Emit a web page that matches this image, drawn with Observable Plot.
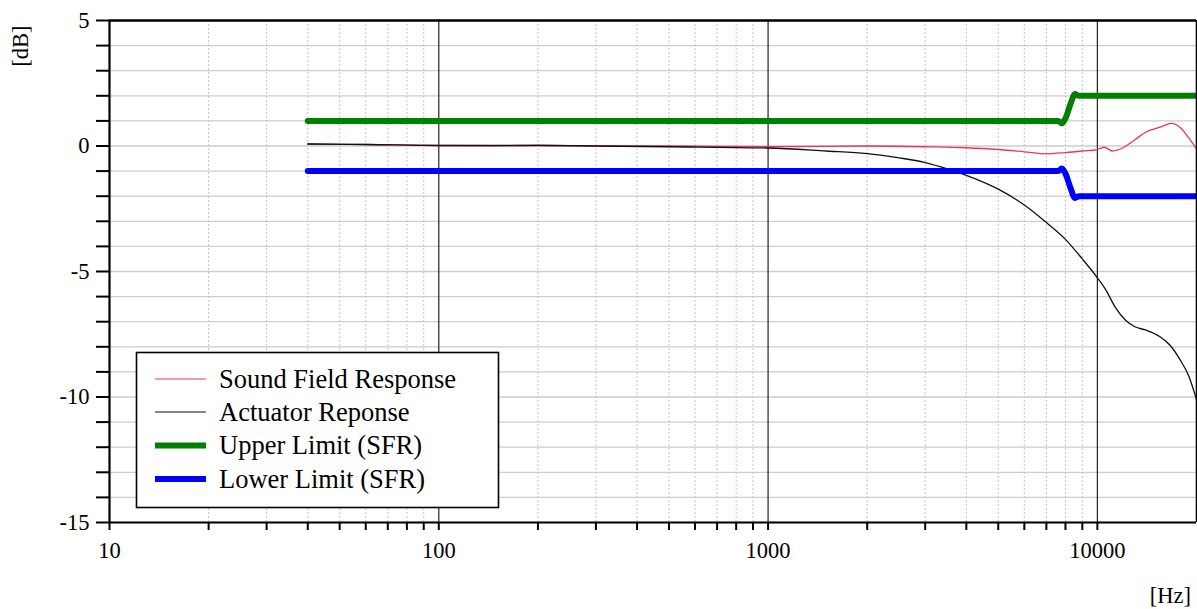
<!DOCTYPE html>
<html>
<head>
<meta charset="utf-8">
<script src="https://cdn.jsdelivr.net/npm/d3@7"></script>
<script src="https://cdn.jsdelivr.net/npm/@observablehq/plot@0.6"></script>
<style>
  html, body { margin: 0; padding: 0; background: #fff; }
  #chart { width: 1197px; height: 609px; }
</style>
</head>
<body>
<div id="chart"></div>
<script>
// ---- Data ----
const sfrFreq = [40, 60, 100, 150, 200, 300, 500, 1000, 2000, 3000, 4000, 5000, 6000, 7000, 8000, 9000, 10000, 10500, 11100, 12000, 13000, 14000, 15500, 16800, 17800, 19000, 20000];
const sfrDb   = [0.08, 0.06, 0.02, 0.01, 0.03, 0.0, 0.0, -0.03, 0.0, -0.03, -0.07, -0.14, -0.23, -0.31, -0.26, -0.2, -0.14, -0.05, -0.2, -0.06, 0.25, 0.55, 0.75, 0.9, 0.75, 0.3, -0.12];

const actFreq = [40, 60, 100, 200, 300, 500, 1000, 1500, 2000, 2500, 3000, 3500, 4300, 5000, 6000, 7000, 8000, 9000, 10000, 10600, 11300, 12200, 13000, 14000, 15500, 16600, 17800, 19000, 20000];
const actDb   = [0.08, 0.06, 0.02, 0.02, 0.0, -0.03, -0.08, -0.2, -0.3, -0.47, -0.66, -0.91, -1.33, -1.72, -2.35, -3.05, -3.72, -4.5, -5.25, -5.72, -6.4, -6.95, -7.2, -7.33, -7.6, -7.93, -8.5, -9.2, -10.1];

const upperFreq = [40, 7600, 7800, 8000, 8300, 8550, 8800, 20000];
const upperDb   = [1, 1, 0.9, 1.1, 1.7, 2.07, 2.0, 2.0];
const lowerFreq = [40, 7600, 7800, 8000, 8300, 8550, 8800, 20000];
const lowerDb   = [-1, -1, -0.9, -1.1, -1.7, -2.07, -2.0, -2.0];

const seriesNames  = ["Sound Field Response", "Actuator Reponse", "Upper Limit (SFR)", "Lower Limit (SFR)"];
const seriesColors = ["#e8375a", "#111111", "#008000", "#0000ff"];

const yTicks = d3.range(-15, 6, 1);
const xTicks = [10,20,30,40,50,60,70,80,90,100,200,300,400,500,600,700,800,900,1000,2000,3000,4000,5000,6000,7000,8000,9000,10000];
const xLabelTicks = [10, 100, 1000, 10000];
const xMinorGrid = xTicks.filter(d => !xLabelTicks.includes(d));
const xMajorGrid = [100, 1000, 10000];

// ---- Build tables ----
const toRows = (fs, vs) => fs.map((f, i) => ({f, v: vs[i]}));
const sfr = toRows(sfrFreq, sfrDb);
const act = toRows(actFreq, actDb);
const upper = toRows(upperFreq, upperDb);
const lower = toRows(lowerFreq, lowerDb);

const font = "Liberation Serif";
const W = 1197, H = 609;
const chart = Plot.plot({
  width: W,
  height: H,
  marginLeft: 109,
  marginRight: 1,
  marginTop: 20,
  marginBottom: 87,
  style: {fontFamily: font, fontSize: "22.5px", color: "#000", background: "#fff"},
  x: {type: "log", domain: [10, 20000]},
  y: {domain: [-15, 5]},
  marks: [
    Plot.ruleY(yTicks, {stroke: "#cdcdcd", strokeWidth: 1.3}),
    Plot.ruleX(xMinorGrid, {stroke: "#c4c4c4", strokeWidth: 1, strokeDasharray: "2,2"}),
    Plot.ruleX(xMajorGrid, {stroke: "#222", strokeWidth: 1.2}),
    Plot.line(sfr, {x: "f", y: "v", stroke: seriesColors[0], strokeWidth: 1.3, curve: "monotone-x"}),
    Plot.line(act, {x: "f", y: "v", stroke: seriesColors[1], strokeWidth: 1.3, curve: "monotone-x"}),
    Plot.line(upper, {x: "f", y: "v", stroke: seriesColors[2], strokeWidth: 6, curve: "monotone-x"}),
    Plot.line(lower, {x: "f", y: "v", stroke: seriesColors[3], strokeWidth: 6, curve: "monotone-x"}),
    Plot.axisY({ticks: yTicks, tickSize: 13, tickPadding: 7, strokeWidth: 2, stroke: "#000",
      fontFamily: font, fontSize: 22.5, fill: "#000",
      tickFormat: d => (d % 5 === 0 ? String(d) : ""), label: null}),
    Plot.axisX({ticks: xTicks, tickSize: 8, tickPadding: 12, strokeWidth: 2, stroke: "#000",
      fontFamily: font, fontSize: 22.5, fill: "#000",
      tickFormat: d => (xLabelTicks.includes(d) ? String(d) : ""), label: null}),
    Plot.ruleX([10], {stroke: "#000", strokeWidth: 2.2}),
    Plot.ruleX([20000], {stroke: "#000", strokeWidth: 1.6}),
    Plot.ruleY([5], {stroke: "#000", strokeWidth: 2.4}),
    Plot.ruleY([-15], {stroke: "#000", strokeWidth: 2})
  ]
});

document.getElementById("chart").appendChild(chart);

// ---- Axis titles and legend (inside the SVG) ----
const svg = d3.select(chart);
svg.append("text")
  .attr("transform", "translate(28,46) rotate(-90)")
  .attr("text-anchor", "middle")
  .attr("font-family", font).attr("font-size", 22.5).attr("fill", "#000")
  .text("[dB]");
svg.append("text")
  .attr("x", 1191).attr("y", 603)
  .attr("text-anchor", "end")
  .attr("font-family", font).attr("font-size", 22.5).attr("fill", "#000")
  .text("[Hz]");

const lg = svg.append("g");
lg.append("rect")
  .attr("x", 136.5).attr("y", 352.5).attr("width", 362).attr("height", 155)
  .attr("fill", "#fff").attr("stroke", "#000").attr("stroke-width", 1.6);
const rowY = [379, 412, 445.5, 479];
const rowW = [1.2, 1.2, 6, 6];
seriesNames.forEach((name, i) => {
  lg.append("line")
    .attr("x1", 155).attr("x2", 206).attr("y1", rowY[i]).attr("y2", rowY[i])
    .attr("stroke", seriesColors[i]).attr("stroke-width", rowW[i]);
  lg.append("text")
    .attr("x", 219).attr("y", rowY[i] + 8.5)
    .attr("text-anchor", "start")
    .attr("font-family", font).attr("font-size", 26.5).attr("fill", "#000")
    .text(name);
});
</script>
</body>
</html>
